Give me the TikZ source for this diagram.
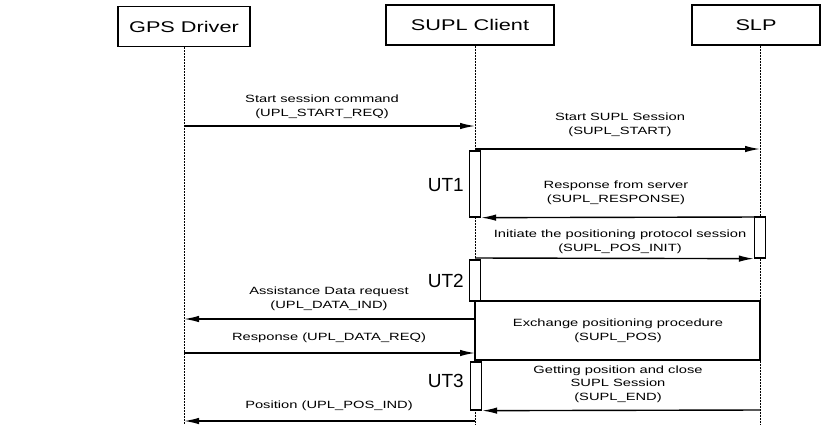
\documentclass[tikz,border=0pt]{standalone}
\usepackage{fontspec}
\setmainfont[FakeStretch=1.4]{Liberation Sans}
\newfontfamily\utfont{Liberation Sans}
\usetikzlibrary{arrows.meta}

\begin{document}
\begin{tikzpicture}[x=1pt,y=-1pt,
  actor/.style={draw,line width=1.3pt,minimum height=40pt,inner sep=0pt,
    font=\fontsize{15.5}{18}\selectfont},
  lifeline/.style={line width=1pt,dash pattern=on 2pt off 1pt},
  act/.style={draw,fill=white,line width=1.3pt,minimum width=11pt,inner sep=0pt},
  msg/.style={line width=1.4pt,-{Latex[length=15pt,width=6.5pt]}},
  lbl/.style={align=center,inner sep=0pt,font=\fontsize{10.5}{13.5}\selectfont},
  utlbl/.style={anchor=east,inner sep=0pt,font=\utfont\fontsize{19}{22}\selectfont},
]
\useasboundingbox (0,0) rectangle (821,424);

% participants
\node[actor,minimum width=132pt] (gps) at (184,26.5) {GPS Driver};
\node[actor,minimum width=168pt] (client) at (470,25) {SUPL Client};
\node[actor,minimum width=128pt] (slp) at (756,25) {SLP};

% lifeline positions
\coordinate (gx) at (184,424);
\coordinate (cx) at (475,424);
\coordinate (sx) at (760,424);
\draw[lifeline] (gps.south -| gx) -- (gx);
\draw[lifeline] (client.south -| cx) -- (cx);
\draw[lifeline] (slp.south -| sx) -- (sx);

% activation bars
\node[act,minimum height=66pt] (ut1) at (475,184) {};
\node[act,minimum height=41pt] (slpact) at (760,237.5) {};
\node[act,minimum height=41pt] (ut2) at (475,280.5) {};
\node[act,minimum height=48pt] (ut3) at (476,386) {};

\node[utlbl] (ut1l) at (464,185) {UT1};
\node[utlbl] (ut2l) at (464,281) {UT2};
\node[utlbl] (ut3l) at (464,381) {UT3};

% positioning exchange frame
\node[draw,line width=1.3pt,inner sep=0pt,minimum width=285pt,minimum height=59pt]
  (exch) at (617.5,330.5) {};

% message anchors on the lifelines
\coordinate (g1) at (184,126);  \coordinate (c1) at (475,126);
\coordinate (c2) at (475,149);  \coordinate (s2) at (760,149);
\coordinate (s3) at (760,217);
\coordinate (c4) at (475,258);
\coordinate (c5) at (475,319);  \coordinate (g5) at (184,319);
\coordinate (g6) at (184,353);  \coordinate (c6) at (475,353);
\coordinate (s7) at (760,410);
\coordinate (c8) at (475,421);  \coordinate (g8) at (184,421);

\draw[msg] (g1) -- (c1);
\draw[msg] (c2) -- (s2);
\draw[msg] (s3) -- (ut1.south east);
\draw[msg] (c4) -- (slpact.south west);
\draw[msg] (c5) -- (g5);
\draw[msg] (g6) -- (c6);
\draw[msg] (s7) -- (ut3.south east);
\draw[msg] (c8) -- (g8);

% message labels
\node[lbl] (l1) at (322,107) {Start session command\\(UPL\_START\_REQ)};
\node[lbl] (l2) at (620,125) {Start SUPL Session\\(SUPL\_START)};
\node[lbl] (l3) at (616,193) {Response from server\\(SUPL\_RESPONSE)};
\node[lbl] (l4) at (620,242) {Initiate the positioning protocol session\\(SUPL\_POS\_INIT)};
\node[lbl] (l5) at (329,299) {Assistance Data request\\(UPL\_DATA\_IND)};
\node[lbl] (l6) at (329,338) {Response (UPL\_DATA\_REQ)};
\node[lbl] (lx) at (618,331) {Exchange positioning procedure\\(SUPL\_POS)};
\node[lbl] (l7) at (618,384) {Getting position and close\\SUPL Session\\(SUPL\_END)};
\node[lbl] (l8) at (329,406) {Position (UPL\_POS\_IND)};
\end{tikzpicture}
\end{document}
